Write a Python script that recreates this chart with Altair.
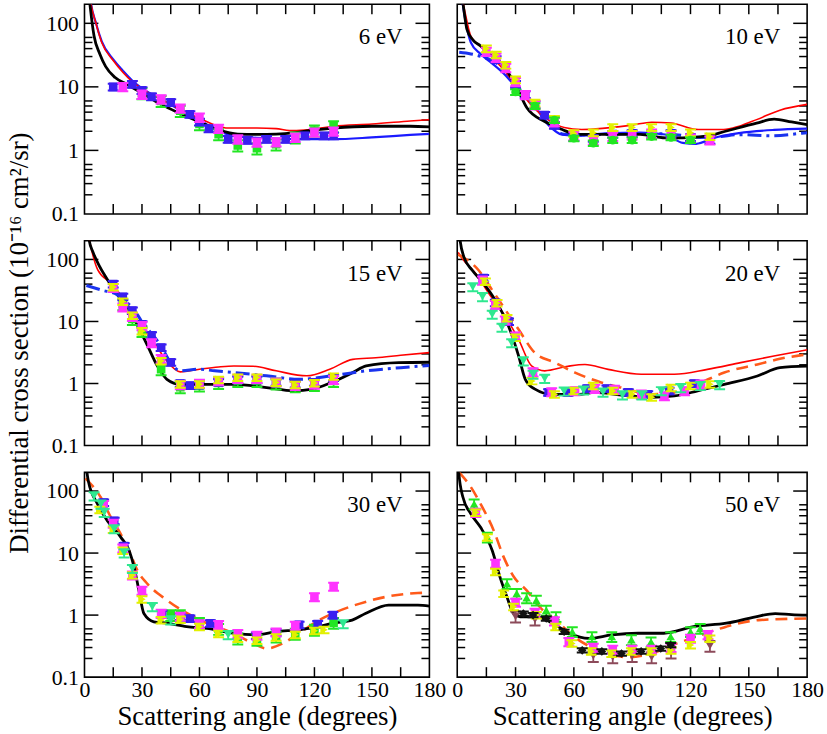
import altair as alt
import pandas as pd

FONT = "Liberation Serif"

# ---------------- 6 eV ----------------
ang_e6_black = [1.5, 3, 5, 8, 11, 16, 22, 30, 40, 50, 60, 70, 80, 90, 100, 110, 120, 130, 150, 170, 180]
dcs_e6_black = [500, 180, 63, 33, 21, 14, 11, 8.0, 5.3, 3.8, 2.8, 2.1, 1.8, 1.78, 1.8, 1.9, 2.1, 2.25, 2.4, 2.4, 2.35]
ang_e6_red = [2, 3, 6, 9, 15, 20, 25, 30, 40, 50, 60, 68, 75, 90, 100, 107, 115, 130, 150, 170, 180]
dcs_e6_red = [500, 250, 100, 50, 26, 17, 12, 9.3, 6.4, 4.4, 3.2, 2.5, 2.25, 2.25, 2.2, 2.05, 2.1, 2.4, 2.6, 2.9, 3.05]
ang_e6_blue = [2, 3, 6, 9, 15, 20, 25, 30, 40, 50, 60, 70, 80, 90, 100, 112, 130, 150, 170, 180]
dcs_e6_blue = [500, 250, 100, 52, 27, 18, 12.5, 9.5, 6.4, 4.3, 3.0, 2.0, 1.65, 1.58, 1.54, 1.5, 1.5, 1.6, 1.75, 1.82]

ang_e6_sq_blue = [15, 25, 30, 35, 45, 55, 60, 65, 75, 85, 95, 105, 115, 125, 130]
dcs_e6_sq_blue = [10, 11, 8.8, 7.0, 5.7, 3.7, 2.8, 2.2, 1.5, 1.45, 1.5, 1.5, 1.7, 1.7, 1.7]
ang_e6_sq_mag = [20, 30, 40, 50, 60, 70, 80, 90, 100, 110, 120, 130]
dcs_e6_sq_mag = [10, 7.6, 6.4, 4.6, 3.3, 2.2, 1.5, 1.34, 1.35, 1.6, 1.92, 2.0]
ang_e6_green = [30, 40, 50, 60, 70, 80, 90, 100, 110, 120, 130]
dcs_e6_green = [8.0, 6.0, 4.2, 2.6, 1.8, 1.2, 1.08, 1.25, 1.6, 2.05, 2.4]

# ---------------- 10 eV ----------------
ang_e10_red = [2, 4, 7, 14, 20, 25, 30, 38, 47, 55, 64, 76, 90, 100, 110, 124, 137, 145, 154, 166, 180]
dcs_e10_red = [300, 150, 63, 39, 25, 17, 10.7, 5.2, 3.0, 2.3, 2.13, 2.24, 2.5, 2.78, 2.7, 2.13, 2.13, 2.4, 3.05, 4.3, 5.3]
ang_e10_black = [1.5, 3, 5, 8, 12, 17, 23, 30, 36, 45, 54, 62, 76, 94, 107, 116, 128, 138, 154, 163, 172, 180]
dcs_e10_black = [400, 200, 80, 55, 44, 32, 23, 10.7, 4.6, 2.85, 2.13, 1.78, 1.78, 1.78, 1.57, 1.57, 1.67, 2.0, 2.68, 3.1, 2.8, 2.55]
ang_e10_blue = [2, 4, 7, 12, 17.5, 25, 30, 38, 47, 54, 62, 76, 94, 107, 116, 123, 132, 145, 163, 180]
dcs_e10_blue = [300, 120, 50, 33, 24, 15, 10, 6.0, 2.5, 1.77, 1.7, 1.85, 1.9, 1.78, 1.31, 1.27, 1.57, 1.87, 2.1, 2.2]
ang_e10_bluedd = [1, 7, 14, 20, 25, 30, 38, 47, 55, 65, 80, 95, 110, 125, 135, 145, 162, 177, 180]
dcs_e10_bluedd = [35, 33, 29, 24, 17, 11, 5.8, 2.6, 1.8, 1.75, 1.8, 1.85, 1.8, 1.6, 1.65, 1.77, 1.7, 1.86, 1.9]

ang_e10_yel = [15, 20, 25, 30, 40, 50, 60, 70, 80, 90, 100, 110, 120, 130]
dcs_e10_yel = [40, 32, 22, 13, 5.6, 3.1, 1.85, 1.9, 2.3, 2.3, 2.3, 2.3, 1.9, 1.65]
ang_e10_mag = [15, 20, 25, 30, 35, 40, 50, 60, 70, 80, 90, 100, 110, 120, 130]
dcs_e10_mag = [36, 29, 20, 12, 7.5, 5.2, 2.8, 1.7, 1.45, 1.65, 1.75, 1.85, 1.75, 1.55, 1.45]
ang_e10_blu = [20, 30, 35, 40, 45, 50, 60, 70, 80, 90, 100, 110, 120, 130]
dcs_e10_blu = [27, 11, 7.6, 5.3, 3.6, 2.5, 1.6, 1.55, 1.8, 1.85, 1.8, 1.85, 1.6, 1.45]
ang_e10_grn = [30, 40, 50, 60, 70, 80, 90, 100, 110, 120]
dcs_e10_grn = [8.3, 5.0, 3.0, 1.55, 1.3, 1.45, 1.45, 1.65, 1.6, 1.45]

# ---------------- 15 eV ----------------
ang_e15_black = [1.5, 2.5, 4.5, 7, 12, 19, 26, 33, 38, 43, 50, 60, 78, 95, 109, 119, 129, 140, 147, 164, 180]
dcs_e15_black = [400, 200, 130, 87, 47, 22.5, 10.7, 4.0, 1.92, 1.17, 0.97, 0.97, 0.97, 0.86, 0.76, 0.81, 1.04, 1.5, 1.92, 2.17, 2.2]
ang_e15_red = [2, 4, 7, 14, 22.6, 31, 38, 43, 50, 60, 70, 78, 88, 100, 116, 128, 140, 152, 165, 180]
dcs_e15_red = [250, 130, 67, 41, 18.7, 7.4, 3.8, 2.3, 1.54, 1.7, 1.85, 1.92, 1.9, 1.6, 1.33, 1.7, 2.45, 2.6, 2.85, 3.15]
ang_e15_bluedd = [1, 9, 17, 26, 31, 40, 45, 50, 60, 68, 78, 95, 112, 129, 147, 165, 180]
dcs_e15_bluedd = [38, 32, 27, 15, 9, 4.0, 2.17, 1.6, 1.7, 1.6, 1.5, 1.33, 1.17, 1.33, 1.6, 1.8, 1.95]

ang_e15_blu = [15, 20, 25, 30, 35, 40, 45, 50, 55, 60, 70, 80, 90, 100, 110, 120, 130]
dcs_e15_blu = [40, 25, 15, 9, 6, 3.8, 2.2, 1.0, 0.93, 0.95, 1.05, 1.15, 1.15, 1.05, 0.98, 1.05, 1.25]
ang_e15_mag = [15, 20, 25, 30, 35, 40, 50, 60, 70, 80, 90, 100, 110, 120, 130]
dcs_e15_mag = [35, 17, 12, 8.5, 4.5, 2.5, 0.95, 1.0, 1.1, 1.2, 1.2, 1.05, 0.92, 0.97, 1.15]
ang_e15_yel = [15, 20, 25, 30, 40, 50, 60, 70, 80, 90, 100, 110, 120, 130]
dcs_e15_yel = [36, 21, 12.5, 7, 2.3, 0.97, 0.97, 1.15, 1.25, 1.25, 1.04, 0.95, 1.02, 1.3]
ang_e15_grn = [20, 25, 30, 40, 50, 60, 70, 80, 90, 100, 110, 120, 130]
dcs_e15_grn = [19, 11, 7, 1.7, 0.87, 0.93, 1.02, 1.1, 1.1, 1.0, 0.9, 0.95, 1.1]

# ---------------- 20 eV ----------------
ang_e20_black = [0.5, 1.5, 3.4, 7.7, 12.8, 19.6, 26.4, 31.6, 35, 40, 48.6, 62.8, 70.8, 84.4, 99.8, 111.7, 123.7, 137.4, 154.4, 166, 180]
dcs_e20_black = [400, 200, 110, 67, 44, 22, 8.4, 2.77, 1.17, 0.81, 0.67, 0.67, 0.72, 0.65, 0.60, 0.63, 0.76, 0.97, 1.32, 1.8, 1.9]
ang_e20_red = [0.5, 2.5, 9.4, 16.2, 24.7, 31.6, 38.4, 45, 57, 65.7, 77.6, 94.7, 111.7, 128.7, 145.8, 162.9, 180]
dcs_e20_red = [130, 104, 60, 28.5, 12.1, 5.1, 1.9, 1.6, 1.9, 2.03, 1.69, 1.41, 1.41, 1.69, 2.17, 2.77, 3.5]
ang_e20_orange = [0.5, 11, 18, 24.7, 31.6, 40, 50.3, 60.6, 74, 87.8, 98, 111.7, 125.4, 137.4, 154.4, 166, 180]
dcs_e20_orange = [120, 67, 32, 15.5, 7.4, 3.1, 2.17, 1.5, 1.04, 0.81, 0.67, 0.72, 1.04, 1.5, 2.03, 2.5, 2.95]

ang_e20_spr = [8, 13, 18, 23, 28, 34, 39, 45, 55, 65, 75, 85, 95, 105, 115, 125, 135]
dcs_e20_spr = [36, 25, 13, 8, 4.5, 2.3, 1.4, 1.2, 0.75, 0.78, 0.72, 0.65, 0.65, 0.76, 0.85, 0.92, 0.95]
ang_e20_yel = [14.5, 20.5, 25.6, 30, 38.4, 50, 60, 70, 80, 90, 100, 110, 120, 130]
dcs_e20_yel = [44, 19.8, 11.4, 5.5, 1.1, 0.67, 0.76, 0.92, 0.76, 0.67, 0.6, 0.85, 0.92, 0.97]
ang_e20_mag = [13, 19.6, 24.7, 30, 39, 48.6, 60.6, 70.8, 81, 94.7, 106.6, 117, 125.4]
dcs_e20_mag = [46, 18.6, 10.5, 5.8, 1.53, 0.73, 0.76, 0.83, 0.8, 0.67, 0.63, 0.76, 0.97]
ang_e20_blu = [13.6, 19.6, 26.4, 47, 57, 67, 77, 88, 98, 109, 122]
dcs_e20_blu = [50, 20, 10, 0.72, 0.72, 0.83, 0.83, 0.72, 0.67, 0.76, 1.0]

# ---------------- 30 eV ----------------
ang_e30_black = [0.5, 2, 6.9, 12, 19, 23.3, 25.9, 28.4, 31, 36.2, 43, 53.3, 63.8, 77.6, 89.7, 100, 112, 122.4, 129.5, 139.7, 146.6, 158.7, 174, 180]
dcs_e30_black = [300, 145, 61, 33, 17.9, 11, 5.9, 2.5, 1.06, 0.78, 0.74, 0.65, 0.61, 0.51, 0.48, 0.54, 0.58, 0.65, 0.74, 0.83, 1.06, 1.45, 1.45, 1.4]
ang_e30_orange = [0.5, 8.6, 13.8, 19, 24, 27.6, 32.8, 43, 60.3, 77.6, 88, 95, 103.5, 112, 122.4, 129.5, 146.6, 157, 174, 180]
dcs_e30_orange = [160, 78, 37.5, 20, 9.7, 5.25, 3.2, 1.74, 0.83, 0.51, 0.35, 0.29, 0.35, 0.51, 0.83, 1.06, 1.63, 1.96, 2.27, 2.3]

ang_e30_spr = [5, 8.6, 10.3, 15.5, 20.7, 25, 35.4, 45, 75, 135]
dcs_e30_spr = [83, 61, 45, 24.5, 10, 5.6, 1.36, 0.83, 0.48, 0.72]
ang_e30_blu = [10, 15.5, 20.7, 40.5, 50, 55, 65.7, 89.7, 100, 112, 121.7, 129.6]
dcs_e30_blu = [65, 33, 13, 1.05, 0.95, 0.88, 0.74, 0.47, 0.53, 0.7, 0.72, 1.0]
ang_e30_mag = [10, 15, 20, 25, 30, 40, 50, 60, 70, 80, 90, 100, 110, 120, 130]
dcs_e30_mag = [60, 30, 12, 4.4, 2.5, 1.06, 0.95, 0.72, 0.7, 0.5, 0.47, 0.53, 0.68, 1.96, 2.9]
ang_e30_yel = [8, 15, 20, 25, 30, 40, 50, 60, 70, 80, 90, 100, 110, 120, 125]
dcs_e30_yel = [50, 24, 11, 4.4, 1.8, 0.83, 0.85, 0.65, 0.5, 0.42, 0.39, 0.44, 0.48, 0.56, 0.58]
ang_e30_grn = [45, 50, 60, 70, 80, 90, 100, 110, 120, 130]
dcs_e30_grn = [1.0, 1.0, 0.75, 0.6, 0.42, 0.4, 0.45, 0.5, 0.58, 0.75]

# ---------------- 50 eV ----------------
ang_e50_black = [0.3, 0.8, 2.9, 7, 12, 18, 22, 25.5, 29, 32.3, 40.7, 49, 57.6, 67.7, 79.5, 93, 106.3, 121.5, 138.4, 153.5, 163.6, 172, 180]
dcs_e50_black = [400, 200, 80, 43, 26, 11, 4.1, 2.0, 1.06, 0.94, 0.94, 0.74, 0.51, 0.42, 0.48, 0.51, 0.51, 0.65, 0.74, 0.94, 1.06, 1.02, 1.0]
ang_e50_orange = [1, 7, 12, 18.8, 23.9, 29, 35.7, 44, 50.8, 60, 72.7, 88, 99.7, 113, 123.2, 138.4, 155, 180]
dcs_e50_orange = [200, 116, 62, 23, 8.6, 4.2, 2.5, 1.2, 0.83, 0.45, 0.27, 0.21, 0.24, 0.35, 0.45, 0.65, 0.83, 0.88]

ang_e50_lime = [8.7, 15.5, 25.6, 30.6, 35.7, 40.7, 45.8, 50.8, 59.2, 69.3, 79.5, 89.6, 99.7, 109.8, 120, 125]
dcs_e50_lime = [62, 18, 3.2, 2.23, 1.9, 1.74, 1.2, 0.94, 0.54, 0.45, 0.45, 0.40, 0.37, 0.45, 0.54, 0.61]
ang_e50_yel = [9.6, 15.5, 19.7, 23.9, 29, 40.7, 50.7, 59, 69, 79.5, 89.6, 99.7, 110, 120, 130]
dcs_e50_yel = [45, 18, 5.0, 2.23, 1.36, 1.0, 0.65, 0.35, 0.26, 0.24, 0.26, 0.26, 0.27, 0.33, 0.42]
ang_e50_mag = [9.6, 19.7, 30, 40, 50, 57.4, 70, 80, 90, 100, 110, 120, 129]
dcs_e50_mag = [45, 6.8, 1.6, 1.1, 0.8, 0.37, 0.3, 0.28, 0.28, 0.28, 0.3, 0.42, 0.48]
ang_e50_dia = [34, 39, 45.8, 55, 64.3, 74.4, 84.5, 94.6, 104.7, 109.8]
dcs_e50_dia = [1.06, 1.0, 0.88, 0.54, 0.27, 0.26, 0.24, 0.26, 0.29, 0.33]
ang_e50_mar = [30, 40, 70, 80, 90, 100, 110, 130]
dcs_e50_mar = [0.95, 0.85, 0.22, 0.21, 0.22, 0.21, 0.25, 0.32]

# ---------------- line and marker styles ----------------
LINE = {
    "black": dict(color="black", strokeWidth=2.8),
    "red": dict(color="#ff0000", strokeWidth=1.6),
    "blue": dict(color="#1a1aff", strokeWidth=2.2),
    "bluedd": dict(color="#1a33ee", strokeWidth=3, strokeDash=[14, 5, 3, 5]),
    "orange": dict(color="#ff5a1a", strokeWidth=2.6, strokeDash=[12, 7]),
}
MARK = {  # colour, shape, relative uncertainty
    "blue": ("#3a1ff0", "square", 0.12),
    "mag": ("#ff33ff", "square", 0.15),
    "green": ("#22e622", "square", 0.2),
    "greenc": ("#22e622", "circle", 0.1),
    "yel": ("#e2f000", "triangle-right", 0.12),
    "spr": ("#2fe890", "triangle-down", 0.15),
    "lime": ("#22e622", "triangle-up", 0.18),
    "dia": ("#111111", "diamond", 0.08),
    "mar": ("#8c4a5a", "triangle-down", 0.2),
}

X_TICKS = list(range(15, 180, 15))
Y_MAJOR = [1, 10, 100]
Y_MINOR = [0.2, 0.3, 0.4, 0.5, 0.6, 2, 3, 4, 5, 6, 20, 30, 40, 50, 60]
Y_TITLE = "Differential cross section (10\u207b\u00b9\u2076 cm\u00b2/sr)"


def panel(label, curves, series, w, h, xlabels, ylabels, ytitle=False):
    xs = alt.Scale(domain=[0, 180], nice=False, zero=False)
    ys = alt.Scale(type="log", domain=[0.1, 200], nice=False)
    xa = alt.Axis(values=[0, 30, 60, 90, 120, 150, 180], labels=xlabels, ticks=False,
                  domain=False, grid=False, labelFlush=False, labelOverlap=False,
                  labelPadding=2, titlePadding=4,
                  title="Scattering angle (degrees)" if xlabels else None)
    ya = alt.Axis(values=[0.1, 1, 10, 100], labels=ylabels, ticks=False, domain=False,
                  grid=False, format="~g", labelFlush=False, labelOverlap=False,
                  labelPadding=6, title=None)

    def X(f):
        return alt.X(f, type="quantitative", scale=xs, axis=xa)

    def Y(f):
        return alt.Y(f, type="quantitative", scale=ys, axis=ya)

    layers = []
    # inward ticks on all four sides
    xt = alt.Chart(pd.DataFrame({"a": X_TICKS}))
    layers.append(xt.mark_rule(color="black", strokeWidth=1.5).encode(
        x=X("a"), y=alt.value(h), y2=alt.value(h - 10)))
    layers.append(xt.mark_rule(color="black", strokeWidth=1.5).encode(
        x=X("a"), y=alt.value(0), y2=alt.value(10)))
    for vals, ln in ((Y_MAJOR, 14), (Y_MINOR, 8)):
        yt = alt.Chart(pd.DataFrame({"v": vals}))
        layers.append(yt.mark_rule(color="black", strokeWidth=1.5).encode(
            y=Y("v"), x=alt.value(0), x2=alt.value(ln)))
        layers.append(yt.mark_rule(color="black", strokeWidth=1.5).encode(
            y=Y("v"), x=alt.value(w), x2=alt.value(w - ln)))

    for ang, dcs, style in curves:
        df = pd.DataFrame({"a": ang, "v": dcs})
        layers.append(alt.Chart(df).mark_line(clip=True, interpolate="monotone", **LINE[style])
                      .encode(x=X("a"), y=Y("v")))

    for ang, dcs, key in series:
        color, shape, err = MARK[key]
        df = pd.DataFrame({"a": ang, "v": dcs})
        df["lo"] = df["v"] * (1 - err)
        df["hi"] = df["v"] * (1 + err)
        base = alt.Chart(df)
        layers.append(base.mark_rule(color=color, strokeWidth=1.8, clip=True)
                      .encode(x=X("a"), y=Y("lo"), y2="hi:Q"))
        for f in ("lo", "hi"):
            layers.append(base.mark_tick(color=color, orient="horizontal", size=11,
                                         thickness=2, clip=True, opacity=1)
                          .encode(x=X("a"), y=Y(f)))
        layers.append(base.mark_point(color=color, shape=shape, size=75, filled=True,
                                      opacity=1, clip=True)
                      .encode(x=X("a"), y=Y("v")))

    layers.append(alt.Chart(pd.DataFrame({"t": [label]})).mark_text(
        font=FONT, fontSize=23, align="right", baseline="middle", color="black")
        .encode(text="t:N", x=alt.value(w - 27), y=alt.value(33)))

    if ytitle:
        # shared y title, drawn once beside the middle-left panel
        layers.append(alt.Chart(pd.DataFrame({"t": [Y_TITLE]})).mark_text(
            font=FONT, fontSize=27, angle=270, align="center", baseline="middle",
            color="black").encode(text="t:N", x=alt.value(-65), y=alt.value(h / 2)))

    return alt.layer(*layers).properties(width=w, height=h)


p6 = panel("6 eV",
           [(ang_e6_blue, dcs_e6_blue, "blue"), (ang_e6_red, dcs_e6_red, "red"),
            (ang_e6_black, dcs_e6_black, "black")],
           [(ang_e6_green, dcs_e6_green, "green"), (ang_e6_sq_blue, dcs_e6_sq_blue, "blue"),
            (ang_e6_sq_mag, dcs_e6_sq_mag, "mag")],
           347, 211, False, True)
p10 = panel("10 eV",
            [(ang_e10_bluedd, dcs_e10_bluedd, "bluedd"), (ang_e10_blue, dcs_e10_blue, "blue"),
             (ang_e10_red, dcs_e10_red, "red"), (ang_e10_black, dcs_e10_black, "black")],
            [(ang_e10_blu, dcs_e10_blu, "blue"), (ang_e10_mag, dcs_e10_mag, "mag"),
             (ang_e10_yel, dcs_e10_yel, "yel"), (ang_e10_grn, dcs_e10_grn, "greenc")],
            352, 211, False, False)
p15 = panel("15 eV",
            [(ang_e15_red, dcs_e15_red, "red"), (ang_e15_black, dcs_e15_black, "black"),
             (ang_e15_bluedd, dcs_e15_bluedd, "bluedd")],
            [(ang_e15_grn, dcs_e15_grn, "green"), (ang_e15_blu, dcs_e15_blu, "blue"),
             (ang_e15_mag, dcs_e15_mag, "mag"), (ang_e15_yel, dcs_e15_yel, "yel")],
            347, 206, False, True, ytitle=True)
p20 = panel("20 eV",
            [(ang_e20_red, dcs_e20_red, "red"), (ang_e20_orange, dcs_e20_orange, "orange"),
             (ang_e20_black, dcs_e20_black, "black")],
            [(ang_e20_blu, dcs_e20_blu, "blue"), (ang_e20_mag, dcs_e20_mag, "mag"),
             (ang_e20_yel, dcs_e20_yel, "yel"), (ang_e20_spr, dcs_e20_spr, "spr")],
            352, 206, False, False)
p30 = panel("30 eV",
            [(ang_e30_orange, dcs_e30_orange, "orange"), (ang_e30_black, dcs_e30_black, "black")],
            [(ang_e30_grn, dcs_e30_grn, "green"), (ang_e30_blu, dcs_e30_blu, "blue"),
             (ang_e30_mag, dcs_e30_mag, "mag"), (ang_e30_yel, dcs_e30_yel, "yel"),
             (ang_e30_spr, dcs_e30_spr, "spr")],
            347, 206, True, True)
p50 = panel("50 eV",
            [(ang_e50_orange, dcs_e50_orange, "orange"), (ang_e50_black, dcs_e50_black, "black")],
            [(ang_e50_mar, dcs_e50_mar, "mar"), (ang_e50_lime, dcs_e50_lime, "lime"),
             (ang_e50_mag, dcs_e50_mag, "mag"), (ang_e50_yel, dcs_e50_yel, "yel"),
             (ang_e50_dia, dcs_e50_dia, "dia")],
            352, 206, True, False)

chart = (
    alt.concat(p6, p10, p15, p20, p30, p50, columns=2,
               spacing={"row": 27, "column": 28}, bounds="flush")
    .properties(padding={"left": 5, "top": 0, "right": 2, "bottom": 2}, background="white")
    .configure_view(stroke="black", strokeWidth=1.6)
    .configure_axis(labelFont=FONT, titleFont=FONT, labelFontSize=22, titleFontSize=27,
                    titleFontWeight="normal", labelColor="black", titleColor="black")
)

chart.save("out.html", embed_options={"renderer": "svg", "actions": False})
